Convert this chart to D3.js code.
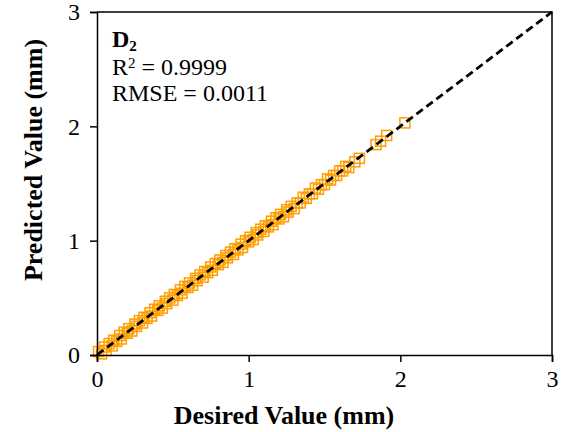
<!DOCTYPE html>
<html>
<head>
<meta charset="utf-8">
<script src="https://cdn.jsdelivr.net/npm/d3@7"></script>
<style>
  html, body { margin: 0; padding: 0; background: #fff; }
  svg { display: block; }
</style>
</head>
<body>
<svg id="chart" width="561" height="432"></svg>
<script>
// Desired vs. predicted displacement (mm)
const desiredValues = [
  0.01,0.03,0.05,0.06,0.08,0.10,0.11,0.13,0.15,0.16,0.18,0.20,0.21,0.23,0.25,0.26,
  0.28,0.30,0.31,0.33,0.35,0.36,0.38,0.40,0.41,0.43,0.45,0.46,0.48,0.50,0.51,0.53,
  0.55,0.56,0.58,0.60,0.61,0.63,0.65,0.66,0.68,0.70,0.71,0.73,0.75,0.76,0.78,0.80,
  0.81,0.83,0.85,0.86,0.88,0.90,0.91,0.93,0.95,0.96,0.98,1.00,1.01,1.03,1.05,1.06,
  1.08,1.10,1.11,1.13,1.15,1.16,1.18,1.20,1.21,1.23,1.25,1.26,1.28,1.30,1.32,1.34,
  1.36,1.38,1.40,1.42,1.44,1.46,1.48,1.50,1.52,1.54,1.56,1.58,1.60,1.62,1.64,1.66,
  1.70,1.73,1.84,1.87,1.91,2.03
];
const predictedValues = [
  0.03,0.01,0.07,0.04,0.10,0.08,0.13,0.12,0.17,0.14,0.20,0.19,0.23,0.21,0.27,0.25,
  0.30,0.28,0.33,0.32,0.37,0.34,0.40,0.39,0.43,0.41,0.47,0.45,0.50,0.48,0.53,0.52,
  0.57,0.54,0.60,0.59,0.63,0.61,0.67,0.65,0.70,0.68,0.73,0.72,0.77,0.74,0.80,0.79,
  0.83,0.81,0.87,0.85,0.90,0.88,0.93,0.92,0.97,0.94,1.00,0.99,1.03,1.01,1.07,1.05,
  1.10,1.08,1.13,1.12,1.17,1.14,1.20,1.19,1.23,1.21,1.27,1.25,1.30,1.28,1.33,1.33,
  1.38,1.37,1.41,1.41,1.46,1.45,1.49,1.49,1.54,1.53,1.57,1.57,1.61,1.61,1.65,1.64,
  1.69,1.72,1.84,1.87,1.92,2.03
];
const tickValues = [0, 1, 2, 3];
const idealLine = [0, 3];
const rSquared = "0.9999";
const rmse = "0.0011";

const width = 561, height = 432;
const margin = { top: 12, right: 9, bottom: 77, left: 97 };
const innerW = width - margin.left - margin.right;
const innerH = height - margin.top - margin.bottom;

const svg = d3.select("#chart");
const g = svg.append("g").attr("transform", `translate(${margin.left},${margin.top})`);

const x = d3.scaleLinear().domain([0, 3]).range([0, innerW]);
const y = d3.scaleLinear().domain([0, 3]).range([innerH, 0]);

const serif = "'Liberation Serif', 'Times New Roman', serif";

// Plot frame (top and right edges)
g.append("path")
  .attr("d", `M0,0H${innerW}V${innerH}`)
  .attr("fill", "none").attr("stroke", "#000").attr("stroke-width", 1.5);

// Markers
const points = desiredValues.map((d, i) => ({ d, p: predictedValues[i] }));
const side = 10;
g.append("g").selectAll("rect").data(points).join("rect")
  .attr("x", v => x(v.d) - side / 2)
  .attr("y", v => y(v.p) - side / 2)
  .attr("width", side).attr("height", side)
  .attr("fill", "none")
  .attr("stroke", "#FF9E00")
  .attr("stroke-width", 1.5);

// 1:1 reference line
g.append("line")
  .attr("x1", x(idealLine[0])).attr("y1", y(idealLine[0]))
  .attr("x2", x(idealLine[1])).attr("y2", y(idealLine[1]))
  .attr("stroke", "#000").attr("stroke-width", 2.8)
  .attr("stroke-dasharray", "8,4.5");

// Axes
const xAxis = g.append("g").attr("transform", `translate(0,${innerH})`)
  .call(d3.axisBottom(x).tickValues(tickValues).tickFormat(d3.format("d")).tickSize(7).tickPadding(8));
const yAxis = g.append("g")
  .call(d3.axisLeft(y).tickValues(tickValues).tickFormat(d3.format("d")).tickSize(7).tickPadding(10));

[xAxis, yAxis].forEach(a => {
  a.select(".domain").attr("stroke", "#000").attr("stroke-width", 1.5);
  a.selectAll(".tick line").attr("stroke", "#000").attr("stroke-width", 1.5);
  a.selectAll(".tick text").attr("fill", "#000")
    .style("font-family", serif).style("font-size", "24px");
});
xAxis.selectAll(".tick text").attr("dy", "0.71em");

// Axis titles
svg.append("text")
  .attr("x", 284).attr("y", 424)
  .attr("text-anchor", "middle")
  .style("font-family", serif).style("font-size", "26px").style("font-weight", "bold")
  .text("Desired Value (mm)");

svg.append("text")
  .attr("transform", `translate(42,${160}) rotate(-90)`)
  .attr("text-anchor", "middle")
  .style("font-family", serif).style("font-size", "26px").style("font-weight", "bold")
  .text("Predicted Value (mm)");

// Annotation block
const note = svg.append("g").style("font-family", serif).attr("fill", "#000");
const dLabel = note.append("text").attr("x", 112).attr("y", 47)
  .style("font-size", "24px").style("font-weight", "bold");
dLabel.append("tspan").text("D");
dLabel.append("tspan").attr("dy", 4).style("font-size", "15px").text("2");

const r2 = note.append("text").attr("x", 112).attr("y", 75).style("font-size", "24px");
r2.append("tspan").text("R");
r2.append("tspan").attr("dy", -7).style("font-size", "15px").text("2");
r2.append("tspan").attr("dy", 7).text(" = " + rSquared);

note.append("text").attr("x", 112).attr("y", 101).style("font-size", "24px")
  .text("RMSE = " + rmse);
</script>
</body>
</html>
